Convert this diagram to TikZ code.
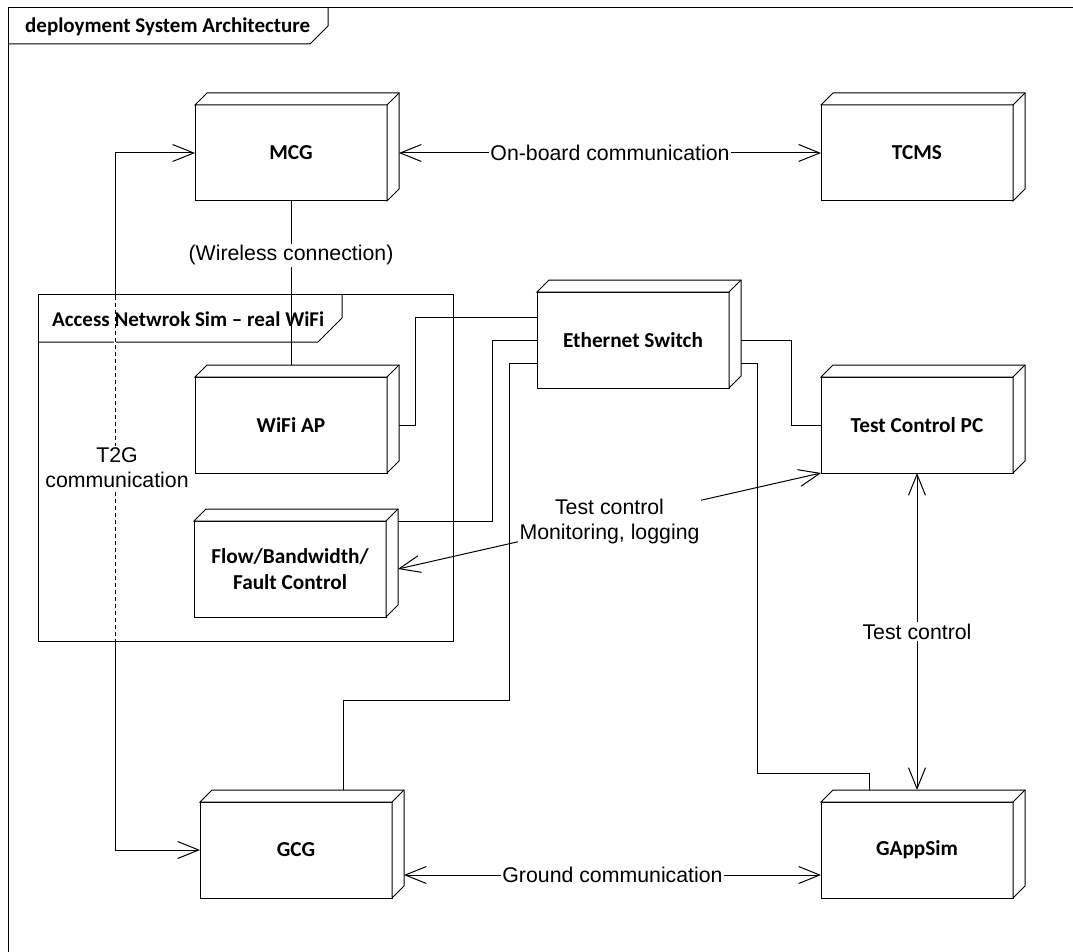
\documentclass[tikz,border=0pt]{standalone}
\usepackage{fontspec}
\setmainfont{Liberation Sans}
\newfontfamily\carl{Carlito}
\usetikzlibrary{arrows.meta}
\tikzset{
  box/.style={draw, fill=white, line width=1pt, minimum width=192pt, minimum height=96pt,
    inner sep=0pt, outer sep=0pt, align=center, font=\carl\bfseries\fontsize{21.3}{26}\selectfont},
  conn/.style={line width=1pt},
  both/.style={{Straight Barb[length=21pt,width=17pt]}-{Straight Barb[length=21pt,width=17pt]}},
  lbl/.style={fill=white, inner sep=1.5pt, align=center, font=\fontsize{21.3}{25}\selectfont},
  tabtext/.style={font=\carl\bfseries\fontsize{21}{25}\selectfont, anchor=west, inner sep=0pt}
}
\begin{document}
\begin{tikzpicture}[x=1pt,y=-1pt]
\useasboundingbox (0,0) rectangle (1073,952);

% outer deployment frame and its name tab
\draw[conn] (8,952) -- (8,8) -- (1073,8);
\draw[conn] (8,44) -- (310,44) -- (328,26) -- (328,8);
\node[tabtext] (frl) at (25,27) {deployment System Architecture};

% access network package
\draw[conn] (38,294) rectangle (453,641);
\draw[conn] (38,342) -- (318,342) -- (342,318) -- (342,294);
\node[tabtext] (accl) at (52,319) {Access Netwrok Sim – real WiFi};

% deployment nodes
\node[box] (mcg)  at (291,153) {MCG};
\node[box] (tcms) at (917,153) {TCMS};
\node[box] (sw)   at (633,340) {Ethernet Switch};
\node[box] (wifi) at (291,425) {WiFi AP};
\node[box] (tcpc) at (917,425) {Test Control PC};
\node[box] (flow) at (290,569) {Flow/Bandwidth/\\Fault Control};
\node[box] (gcg)  at (296,850) {GCG};
\node[box] (gapp) at (917,850) {GAppSim};

% 3D depth of each node
\foreach \n in {mcg,tcms,sw,wifi,tcpc,flow,gcg,gapp}{
  \draw[conn, fill=white, line join=miter] (\n.north west) -- ++(12pt,12pt)
    -- ([shift={(12pt,12pt)}]\n.north east) -- ([shift={(12pt,12pt)}]\n.south east)
    -- (\n.south east) -- (\n.north east) -- cycle;
  \draw[conn] (\n.north east) -- ++(12pt,12pt);
}

% ethernet cabling
\draw[conn] ([xshift=12pt]wifi.east) -- (415,425) |- ([yshift=23pt]sw.west);
\draw[conn] ([xshift=12pt]flow.north east) -- (492,521) |- (sw.west);
\draw[conn] ([yshift=-23pt]sw.west) -- (509,363) -- (509,700) -| ([shift={(47pt,12pt)}]gcg.north);
\draw[conn] ([xshift=12pt]sw.east) -- (791,340) |- (tcpc.west);
\draw[conn] ([shift={(12pt,-23pt)}]sw.east) -- (757,363) -- (757,773) -| ([shift={(-48pt,12pt)}]gapp.north);

% communication links
\draw[conn,both] ([xshift=12pt]mcg.east) -- node[lbl] (onb) {On-board communication} (tcms.west);
\draw[conn,both] ([shift={(12pt,-25pt)}]gcg.east) -- node[lbl] (gnd) {Ground communication} ([yshift=-25pt]gapp.west);
\draw[conn,both] (tcpc.south) -- node[lbl] (tc) {Test control} ([yshift=12pt]gapp.north);
\draw[conn,both] (tcpc.south west) -- node[lbl] (tcm) {Test control\\Monitoring, logging} ([xshift=12pt]flow.east);
\draw[conn] (mcg.south) -- node[lbl,pos=0.33] (wl) {(Wireless connection)} ([yshift=12pt]wifi.north);

% train-to-ground link, dashed where it runs through the package
\draw[conn,both] (mcg.west) -- (115,153) -- (115,850) -- (gcg.west);
\draw[white,line width=2pt] (115,295.5) -- (115,639.5);
\draw[conn,dash pattern=on 4pt off 3pt] (115,295.5) -- (115,639.5);
\node[lbl] (t2g) at (117,468) {T2G\\communication};
\end{tikzpicture}
\end{document}
